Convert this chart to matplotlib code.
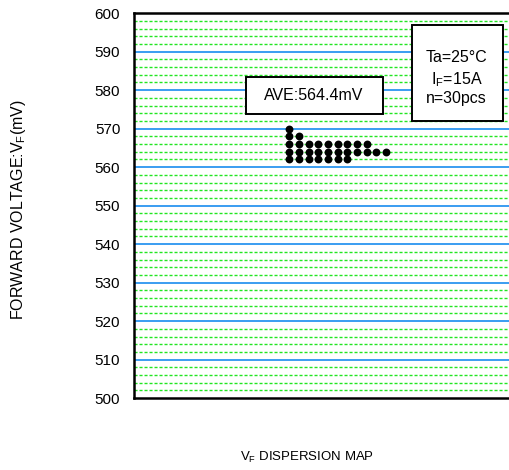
import matplotlib.pyplot as plt
from matplotlib.patches import Rectangle
import numpy as np

# ---------------------------------------------------------------------------
# Data (dot map)
# ---------------------------------------------------------------------------
vf_levels = [570, 568, 566, 564, 562]      # mV
vf_counts = [1, 2, 9, 11, 7]               # dots per level (n = 30)
first_col = 16                             # column of the first dot
y_ticks = [500, 510, 520, 530, 540, 550, 560, 570, 580, 590, 600]
ave_text = "AVE:564.4mV"
cond_lines = ["Ta=25°C", "I$_\\mathregular{F}$=15A", "n=30pcs"]

# ---------------------------------------------------------------------------
# Plot
# ---------------------------------------------------------------------------
plt.rcParams['font.family'] = ['Liberation Sans', 'DejaVu Sans']

fig = plt.figure(figsize=(5.1, 4.7), dpi=100)
ax = fig.add_axes([0.263, 0.153, 0.76, 0.819])

# grid: blue every 10 mV, green dashed every 2 mV
for v in np.arange(502, 600, 2):
    if v % 10 == 0:
        ax.axhline(v, color='#2b95f0', lw=1.3, zorder=1)
    else:
        ax.axhline(v, color='#22e622', lw=1.0, ls=(0, (2.2, 1.4)), zorder=1)

xs, ys = [], []
for lvl, cnt in zip(vf_levels, vf_counts):
    for i in range(cnt):
        xs.append(first_col + i)
        ys.append(lvl)
ax.scatter(xs, ys, s=32, color='black', zorder=3, linewidths=0)

ax.set_xlim(0, 40)
ax.set_ylim(500, 600)
ax.set_yticks(y_ticks)
ax.set_xticks([])
ax.tick_params(axis='y', length=0, pad=10, labelsize=11)
for side in ['left', 'bottom', 'top']:
    ax.spines[side].set_linewidth(1.8)
ax.spines['right'].set_visible(False)

ax.set_ylabel("FORWARD VOLTAGE:V$_\\mathregular{F}$(mV)", fontsize=11.5)
ax.yaxis.set_label_coords(-0.275, 0.49)
fig.text(0.602, 0.027, "V$_\\mathregular{F}$ DISPERSION MAP", fontsize=9.5,
         ha='center', va='center')

# average box
ax.add_patch(Rectangle((0.289, 0.738), 0.353, 0.096, transform=ax.transAxes,
                       fc='white', ec='black', lw=1.4, zorder=4))
ax.text(0.464, 0.787, ave_text, transform=ax.transAxes, fontsize=11.5,
        ha='center', va='center', zorder=5)

# condition box
ax.add_patch(Rectangle((0.716, 0.719), 0.235, 0.25, transform=ax.transAxes,
                       fc='white', ec='black', lw=1.4, zorder=4))
for txt, yy in zip(cond_lines, [0.886, 0.827, 0.779]):
    ax.text(0.832, yy, txt, transform=ax.transAxes, fontsize=11.5,
            ha='center', va='center', zorder=5)

fig.savefig("out.png", dpi=100)
